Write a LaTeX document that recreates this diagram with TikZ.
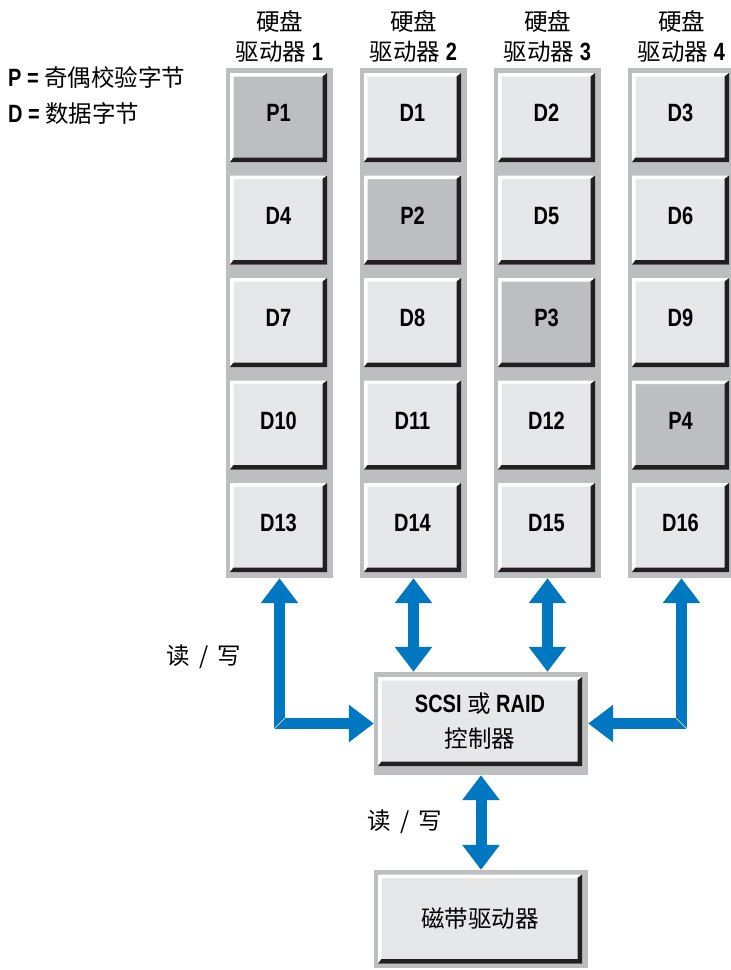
\documentclass[tikz,border=0pt]{standalone}
\usepackage{fontspec}
\setmainfont{Liberation Sans}[FakeStretch=0.8]
\newfontfamily\cjk{Noto Sans CJK SC}
\usetikzlibrary{arrows.meta,calc}
\definecolor{frame}{HTML}{BCBEC0}
\definecolor{face}{HTML}{E6E7E8}
\definecolor{pface}{HTML}{BCBEC0}
\definecolor{shadowcol}{HTML}{231F20}
\definecolor{flow}{HTML}{0077C1}
\newcommand\zh[1]{{\cjk\mdseries\fontsize{23.5}{35}\selectfont #1}}
\tikzset{
  colbg/.style={rectangle, inner sep=0pt, fill=frame, draw=none, minimum width=107pt, minimum height=510pt},
  bevel/.style={rectangle, inner sep=0pt, minimum width=97pt, minimum height=89pt, fill=#1,
    font=\bfseries\fontsize{25}{35}\selectfont, align=center,
    path picture={
      \fill[white] (path picture bounding box.north west) -- (path picture bounding box.north east)
        -- ($(path picture bounding box.north east)+(-4.5,3.5)$)
        -- ($(path picture bounding box.north west)+(3.5,3.5)$)
        -- ($(path picture bounding box.south west)+(3.5,-4.5)$)
        -- (path picture bounding box.south west) -- cycle;
      \fill[shadowcol] (path picture bounding box.north east) -- (path picture bounding box.south east)
        -- (path picture bounding box.south west)
        -- ($(path picture bounding box.south west)+(3.5,-4.5)$)
        -- ($(path picture bounding box.south east)+(-4.5,-4.5)$)
        -- ($(path picture bounding box.north east)+(-4.5,3.5)$) -- cycle;
    }},
  bevel/.default=face,
  hdr/.style={inner sep=0pt, font=\bfseries\fontsize{25}{28}\selectfont},
  flowarrow/.style={draw=flow, line width=11pt, line join=miter,
    {Triangle[width=36pt,length=25pt]}-{Triangle[width=36pt,length=25pt]}},
  seam/.style={draw=white, line width=0.6pt}
}
\begin{document}
\begin{tikzpicture}[x=1pt,y=-1pt]
\useasboundingbox (0,0) rectangle (731,970);
% legend
\node[hdr, anchor=west] (leg1) at (8,78) {P = \zh{奇偶校验字节}};
\node[hdr, anchor=west] (leg2) at (8,114) {D = \zh{数据字节}};
% columns and headers
\foreach \i in {1,...,4}{
  \node[colbg] (col\i) at ({279.5+134*(\i-1)},323) {};
  \node[hdr] (ha\i) at ({279.5+134*(\i-1)},21) {\zh{硬盘}};
  \node[hdr] (hb\i) at ({279.5+134*(\i-1)},52) {\zh{驱动器} \i};
}
% disk blocks
\foreach \r/\c/\t/\f in {
  1/1/P1/pface, 1/2/D1/face, 1/3/D2/face, 1/4/D3/face,
  2/1/D4/face, 2/2/P2/pface, 2/3/D5/face, 2/4/D6/face,
  3/1/D7/face, 3/2/D8/face, 3/3/P3/pface, 3/4/D9/face,
  4/1/D10/face, 4/2/D11/face, 4/3/D12/face, 4/4/P4/pface,
  5/1/D13/face, 5/2/D14/face, 5/3/D15/face, 5/4/D16/face}{
  \node[bevel=\f] (b\r\c) at ({278.5+134*(\c-1)},{117.5+102.5*(\r-1)}) {\raisebox{9pt}{\t}};
}
% controller
\node[colbg, minimum width=214pt, minimum height=103pt] (ctrlbg) at (481,723.5) {};
\node[bevel, minimum width=204pt, minimum height=89pt] (ctrl) at (480,721.5)
  {SCSI \zh{或} RAID\\\zh{控制器}};
% tape
\node[colbg, minimum width=214pt, minimum height=98pt] (tapebg) at (481,919) {};
\node[bevel, minimum width=204pt, minimum height=89pt] (tape) at (480,919) {\zh{磁带驱动器}};
% arrows
\draw[flowarrow] (col1.south) |- (ctrlbg.west);
\draw[flowarrow] (col4.south) |- (ctrlbg.east);
\draw[flowarrow] (col2.south) -- (col2.south |- ctrlbg.north);
\draw[flowarrow] (col3.south) -- (col3.south |- ctrlbg.north);
\draw[flowarrow] (ctrlbg.south) -- (tapebg.north);
\coordinate (k1) at (col1.south |- ctrlbg.west);
\coordinate (k4) at (col4.south |- ctrlbg.east);
\draw[seam] ($(k1)+(-5.5,5.5)$) -- ($(k1)+(5.5,-5.5)$);
\draw[seam] ($(k4)+(-5.5,-5.5)$) -- ($(k4)+(5.5,5.5)$);
% read/write labels
\node (rw1) at (204,657) {\zh{读\ \,/\ \,写}};
\node (rw2) at (405,822) {\zh{读\ \,/\ \,写}};
\end{tikzpicture}
\end{document}
